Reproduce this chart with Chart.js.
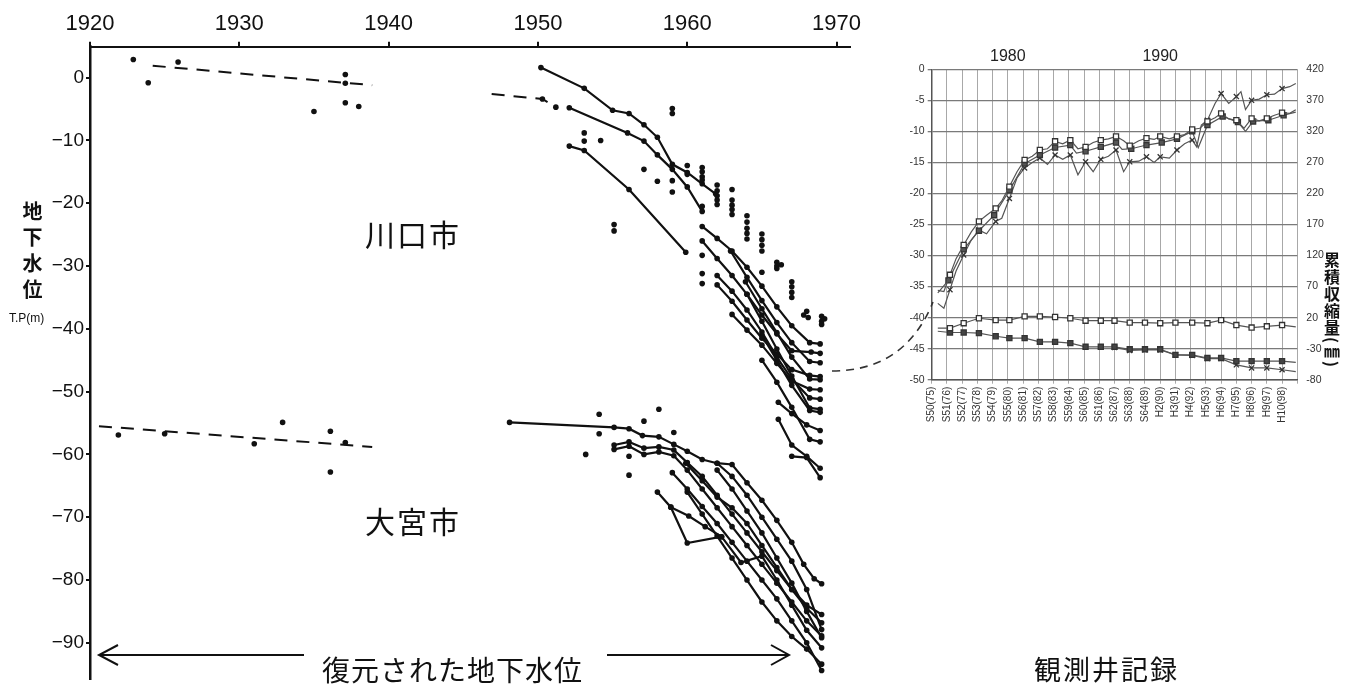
<!DOCTYPE html>
<html lang="ja">
<head>
<meta charset="UTF-8">
<title>地下水位の変遷</title>
<script src="https://cdn.jsdelivr.net/npm/chart.js"></script>
<style>
    body {
        margin: 0;
        width: 1347px;
        height: 692px;
        overflow: hidden;
        position: relative;
        background: #fff;
        font-family: 'Noto Sans CJK JP', sans-serif;
        color: #111;
    }
    #leftBox { position: absolute; left: 0; top: 0; width: 870px; height: 692px; }
    #rightBox { position: absolute; left: 880px; top: 40px; width: 467px; height: 420px; }
    .lbl { position: absolute; white-space: nowrap; line-height: 1; }
    .vert { writing-mode: vertical-rl; }
    #deco { position: absolute; left: 0; top: 0; pointer-events: none; }
</style>
</head>
<body>
<div id="leftBox"><canvas id="levelChart"></canvas></div>
<div id="rightBox"><canvas id="wellChart"></canvas></div>

<svg id="deco" width="1347" height="692">
    <!-- arrows under the reconstructed levels and the link to the well record -->
    <g stroke="#111" stroke-width="2" fill="none">
        <line x1="99" y1="655" x2="304" y2="655"/>
        <polyline points="118,645 99,655 118,665"/>
        <line x1="607" y1="655" x2="789" y2="655"/>
        <polyline points="771,645 789,655 771,665"/>
    </g>
    <path d="M 832 371 Q 905 371 933 302" stroke="#333" stroke-width="1.6" fill="none" stroke-dasharray="8 6"/>
</svg>

<div class="lbl vert" style="left:22px; top:201px; font-size:20px; font-weight:bold; letter-spacing:6px;">地下水位</div>
<div class="lbl" style="left:9px; top:312px; font-size:12px; font-family:'Liberation Sans',sans-serif;">T.P(m)</div>
<div class="lbl" style="left:365px; top:218px; font-size:30px; letter-spacing:2px;">川口市</div>
<div class="lbl" style="left:365px; top:505px; font-size:30px; letter-spacing:2px;">大宮市</div>
<div class="lbl" style="left:322px; top:655px; font-size:28px; letter-spacing:1px;">復元された地下水位</div>
<div class="lbl" style="left:1034px; top:655px; font-size:27px; letter-spacing:2px;">観測井記録</div>
<div class="lbl vert" style="left:1324px; top:252px; font-size:16px; font-weight:bold; letter-spacing:1px;">累積収縮量(㎜)</div>

<script>
    // ---- left chart: reconstructed groundwater level (T.P. m) ----
    const yearTicks = [1920, 1930, 1940, 1950, 1960, 1970];
    const levelTicks = [0, -10, -20, -30, -40, -50, -60, -70, -80, -90];

    // Kawaguchi, before the war
    const kawaEarlyDots = [[1922.9, 2.9], [1923.9, -0.8], [1925.9, 2.5], [1935, -5.4], [1937.1, 0.5],
        [1937.1, -0.9], [1937.1, -4.0], [1938, -4.6]];
    const kawaEarlyTrend = [[1924.2, 1.9], [1938.9, -1.2]];
    // Omiya, before the war
    const omiyaEarlyDots = [[1921.9, -56.9], [1925, -56.7], [1931, -58.3], [1932.9, -54.9], [1936.1, -56.3],
        [1936.1, -62.8], [1937.1, -58.1]];
    const omiyaEarlyTrend = [[1920.6, -55.5], [1938.9, -58.8]];

    // Kawaguchi wells
    const kawaDash = [[1946.9, -2.6], [1950.3, -3.4], [1951.2, -4.7]];
    const kawaA = [[1950.2, 1.6], [1953.1, -1.7], [1955, -5.2], [1956.1, -5.7], [1957.1, -7.5], [1958, -9.5],
        [1959, -13.8], [1960, -15.1], [1961, -16.9], [1961.9, -18.5]];
    const kawaB = [[1952.1, -4.8], [1956, -8.8], [1957.1, -10.1], [1958, -12.3], [1959, -14.6], [1960, -17.4], [1961, -21.3]];
    const kawaC = [[1952.1, -10.9], [1953.1, -11.6], [1956.1, -17.8], [1959.9, -27.8]];
    const kawa1 = [[1961, -23.7], [1962, -25.6], [1963, -27.6], [1964, -30.2], [1965, -33.2], [1966, -36.5], [1967, -39.5], [1968.2, -42.2], [1968.9, -42.4]];
    const kawa2 = [[1961, -26], [1962, -28.8], [1963, -31.5], [1964, -34.5], [1965, -37.8], [1966, -40.8], [1967, -43.5], [1968.3, -43.7], [1968.9, -43.9]];
    const kawa3 = [[1962.9, -27.6], [1964, -31.8], [1965, -35.5], [1966, -39], [1967, -42.2], [1968.2, -45.2], [1968.9, -45.4]];
    const kawa4 = [[1962, -33], [1963, -35.6], [1964, -38.6], [1965, -41.5], [1966, -44], [1967, -46.5], [1968.2, -47.4], [1968.9, -47.6]];
    const kawa5 = [[1963.9, -32.5], [1965, -36.8], [1966, -40.6], [1967, -44.5], [1968.2, -48], [1968.9, -48.1]];
    const kawa6 = [[1963, -37.7], [1964, -40.2], [1965, -42.6], [1966, -45.5], [1967, -48.3], [1968.2, -49.6], [1968.9, -49.7]];
    const kawa7 = [[1962, -31.5], [1963, -34], [1964, -37], [1965, -40.5], [1966, -44.5], [1967, -48], [1968.2, -51], [1968.9, -51.2]];
    const kawa8 = [[1964, -34.5], [1965, -38.8], [1966, -43.2], [1967, -47.5], [1968.2, -52.6], [1968.9, -52.8]];
    const kawa9 = [[1965, -41], [1966, -45], [1967, -49], [1968.2, -53], [1968.9, -53.3]];
    const kawa10 = [[1966.1, -51.7], [1967, -53.5], [1968, -55.3], [1968.9, -56.2]];
    const kawa11 = [[1965, -45], [1966, -48.5], [1967, -52.5], [1968.2, -57.6], [1968.9, -58]];
    const kawa12 = [[1966.1, -54.4], [1967, -58.5], [1968, -60.3], [1968.9, -62.2]];
    const kawa13 = [[1967, -60.3], [1968, -60.5], [1968.9, -63.7]];
    const kawaDots = [[1953.1, -8.8], [1953.1, -10.1], [1954.2, -10.0], [1955.1, -23.4], [1955.1, -24.4], [1957.1, -14.6],
        [1958, -16.5], [1959, -4.9], [1959, -5.7], [1959, -16.4], [1959, -18.2], [1960, -14], [1960, -15.4],
        [1961, -14.3], [1961, -15], [1961, -15.8], [1961, -16.3], [1961, -20.5], [1961, -28.3], [1961, -31.2], [1961, -32.8],
        [1962, -17.1], [1962, -18], [1962, -18.8], [1962, -19.5], [1962, -20.2],
        [1963, -17.8], [1963, -19.5], [1963, -20.3], [1963, -21], [1963, -21.8],
        [1964, -22], [1964, -23], [1964, -24], [1964, -24.8], [1964, -25.7],
        [1965, -24.9], [1965, -25.8], [1965, -26.7], [1965, -27.6], [1965, -31],
        [1966, -29.4], [1966, -30], [1966, -30.4], [1966.3, -29.8],
        [1967, -32.5], [1967, -33.3], [1967, -34.2], [1967, -35],
        [1968, -37.2], [1967.8, -37.8], [1968.1, -38.2], [1969, -38], [1969, -38.8], [1969.2, -38.4], [1969, -39.3]];

    // Omiya wells
    const omiya1 = [[1948.1, -54.9], [1955.1, -55.7], [1956.1, -55.9], [1957, -57], [1958.1, -57.2], [1959.1, -58.4],
        [1960, -59.5], [1961, -60.8], [1962, -61.4], [1963, -61.6], [1964, -64.5], [1965, -67.3], [1966, -70.5],
        [1967, -74], [1967.8, -77.5], [1968.5, -79.8], [1969, -80.6]];
    const omiya2 = [[1955.1, -58.5], [1956.1, -58], [1957.1, -59], [1958.1, -58.8], [1959.1, -59.3], [1960, -61.3],
        [1961, -63.5], [1962, -66.5], [1963, -69.5], [1964, -72.5], [1965, -75.5], [1966, -78.5], [1967, -81.5], [1968, -84], [1969, -85.5]];
    const omiya3 = [[1955.1, -59.2], [1956.1, -58.7], [1957.1, -60], [1958.1, -59.6], [1959.1, -60.2], [1960, -62.5],
        [1961, -65.5], [1962, -68.5], [1963, -71.5], [1964, -74.5], [1965, -77.5], [1966, -80.5], [1967, -83.5], [1968, -86.5], [1969, -88.9]];
    const omiya4 = [[1959, -62.9], [1960, -65.5], [1961, -68.3], [1962, -71], [1963, -74], [1964, -77], [1965, -80],
        [1966, -83], [1967, -86.5], [1968, -90], [1969, -94.4]];
    const omiya5 = [[1958, -66], [1958.9, -68.4], [1960, -74.1], [1962.3, -73.1], [1963.6, -77.2], [1965, -76.2],
        [1966, -80], [1967, -84], [1968, -88], [1969, -90.8]];
    const omiya6 = [[1958.9, -68.4], [1960.1, -69.8], [1961.2, -71.5], [1962.3, -73.1]];
    const omiya7 = [[1959.9, -61.4], [1961, -64.2], [1962, -66.8], [1963, -68.5], [1964, -71], [1965, -74.5],
        [1966, -78], [1967, -81.5], [1968, -84.5], [1969, -86.8]];
    const omiya8 = [[1962, -61.4], [1963, -63.5], [1964, -66.5], [1965, -70], [1966, -73.5], [1967, -77], [1968, -81.5], [1969, -87.9]];
    const omiya9 = [[1962, -62.5], [1963, -65.5], [1964, -69], [1965, -72.5], [1966, -76.5], [1967, -80.5], [1968, -85], [1969, -89.2]];
    const omiya10 = [[1960, -66], [1961, -69.5], [1962, -73], [1963, -76.5], [1964, -80], [1965, -83.5], [1966, -86.5],
        [1967, -89], [1968, -91], [1969, -93.4]];
    const omiyaDots = [[1953.2, -60], [1954.1, -53.6], [1954.1, -56.7], [1956.1, -60.3], [1956.1, -63.3],
        [1957.1, -54.7], [1958.1, -52.8], [1959.1, -56.5]];

    // ---- right chart: observation well record ----
    const eraLabels = ['S50(75)', 'S51(76)', 'S52(77)', 'S53(78)', 'S54(79)', 'S55(80)', 'S56(81)', 'S57(82)',
        'S58(83)', 'S59(84)', 'S60(85)', 'S61(86)', 'S62(87)', 'S63(88)', 'S64(89)', 'H2(90)', 'H3(91)',
        'H4(92)', 'H5(93)', 'H6(94)', 'H7(95)', 'H8(96)', 'H9(97)', 'H10(98)'];
    const decadeTicks = [1980, 1990];

    // groundwater level (m), left axis
    const wellSq = [[1975.4, -35.6], [1975.8, -35.8], [1976.2, -33.1], [1976.6, -30.5], [1977.1, -28.3], [1977.6, -26.2],
        [1978.1, -24.5], [1978.6, -23.5], [1979.2, -22.4], [1979.6, -21.2], [1980.1, -18.9], [1980.6, -16.5],
        [1981.1, -14.6], [1981.6, -14.0], [1982.1, -13.0], [1982.6, -12.8], [1983.1, -11.6], [1983.6, -12.0],
        [1984.1, -11.4], [1984.6, -12.8], [1985.1, -12.5], [1985.6, -11.8], [1986.1, -11.4], [1986.6, -11.2],
        [1987.1, -10.8], [1987.6, -11.5], [1988, -12.3], [1988.6, -11.5], [1989.1, -11.1], [1989.6, -11.3],
        [1990, -10.8], [1990.6, -11.2], [1991.1, -10.8], [1991.6, -10.5], [1992.1, -9.7], [1992.6, -9.5],
        [1993.1, -8.4], [1993.6, -7.8], [1994, -7.1], [1994.5, -8.0], [1995, -8.2], [1995.5, -9.5],
        [1996, -7.9], [1996.5, -8.3], [1997, -7.9], [1997.5, -7.4], [1998, -7.0], [1998.5, -7.1], [1998.9, -6.5]];
    const wellFill = [[1975.4, -36], [1976.1, -34], [1977.1, -29], [1978.1, -26], [1979.1, -23.5], [1980.1, -19.5],
        [1981.1, -15.2], [1982.1, -13.8], [1983.1, -12.6], [1984.1, -12.2], [1984.5, -13.5], [1985.1, -13.2], [1986.1, -12.5],
        [1987.1, -11.8], [1987.5, -12.9], [1988.1, -12.8], [1989.1, -12.2], [1990.1, -11.8], [1991.1, -11.2],
        [1992.1, -10.0], [1992.5, -12.6], [1993.1, -9.0], [1994.1, -7.6], [1995.1, -8.5], [1995.6, -10.0],
        [1996.1, -8.4], [1997.1, -8.2], [1998.1, -7.4], [1998.9, -6.9]];
    const wellCross = [[1975.4, -37.7], [1975.8, -38.5], [1976.2, -35.5], [1976.6, -32.5], [1977.1, -29.9], [1977.6, -27.5],
        [1978.1, -25.9], [1978.6, -26.5], [1979.2, -24.5], [1979.6, -24.0], [1980.1, -20.8], [1980.6, -17.5],
        [1981.1, -15.9], [1981.6, -15.0], [1982.1, -14.3], [1982.6, -15.3], [1983.1, -13.8], [1983.6, -14.5],
        [1984.1, -13.8], [1984.6, -17.0], [1985.1, -14.9], [1985.6, -16.5], [1986.1, -14.5], [1986.6, -14.0],
        [1987.1, -13.0], [1987.6, -16.5], [1988, -14.9], [1988.6, -14.8], [1989.1, -14.1], [1989.6, -15.0],
        [1990, -14.1], [1990.6, -14.3], [1991.1, -13.0], [1991.6, -12.0], [1992.1, -11.4], [1992.4, -12.5],
        [1992.7, -9.0], [1993.1, -8.2], [1993.6, -5.5], [1994, -3.9], [1994.5, -5.5], [1995, -4.4], [1995.3, -3.6],
        [1995.6, -6.5], [1996, -5.0], [1996.5, -4.8], [1997, -4.1], [1997.5, -4.0], [1998, -3.1], [1998.5, -2.8], [1998.9, -2.3]];

    // cumulative compaction (mm), right axis
    const compSq = [[1975.4, 3], [1976.2, 3], [1977.1, 11], [1978.1, 19], [1979.2, 16], [1980.1, 16], [1981.1, 22],
        [1982.1, 22], [1983.1, 21], [1984.1, 19], [1985.1, 15], [1986.1, 15], [1987, 15], [1988, 12], [1989, 12],
        [1990, 11], [1991, 12], [1992.1, 12], [1993.1, 11], [1994, 16], [1995, 8], [1996, 4], [1997, 6], [1998, 8], [1998.9, 5]];
    const compFill = [[1975.4, -2], [1976.2, -4], [1977.1, -4], [1978.1, -5], [1979.2, -10], [1980.1, -13], [1981.1, -13],
        [1982.1, -19], [1983.1, -19], [1984.1, -21], [1985.1, -27], [1986.1, -27], [1987, -27], [1988, -31], [1989, -31],
        [1990, -31], [1991, -40], [1992.1, -40], [1993.1, -45], [1994, -45], [1995, -50], [1996, -50], [1997, -50],
        [1998, -50], [1998.9, -52]];
    const compCross = [[1987, -28], [1988, -33], [1989, -32], [1990, -32], [1991, -40], [1992.1, -41], [1993.1, -46],
        [1994, -46], [1995, -56], [1996, -61], [1997, -61], [1998, -64], [1998.9, -67]];

    const INK = '#111';
    const sans = "'Liberation Sans', Arial, sans-serif";

    function wellLine(pts) {
        return { type: 'line', data: pts, borderColor: INK, borderWidth: 2.2, pointRadius: 2.8,
            pointBackgroundColor: INK, pointBorderWidth: 0, tension: 0 };
    }
    function trend(pts, withDots) {
        return { type: 'line', data: pts, borderColor: INK, borderWidth: 2, borderDash: [13, 9],
            pointRadius: withDots ? (c => c.index > 0 ? 2.8 : 0) : 0, pointBackgroundColor: INK, pointBorderWidth: 0 };
    }
    function dots(pts) {
        return { type: 'scatter', data: pts, showLine: false, pointRadius: 2.8,
            pointBackgroundColor: INK, pointBorderWidth: 0 };
    }

    const levelSets = [
        trend(kawaEarlyTrend, false), trend(omiyaEarlyTrend, false), trend(kawaDash, true),
        dots(kawaEarlyDots), dots(omiyaEarlyDots), dots(kawaDots), dots(omiyaDots)
    ];
    [kawaA, kawaB, kawaC, kawa1, kawa2, kawa3, kawa4, kawa5, kawa6, kawa7, kawa8, kawa9, kawa10, kawa11, kawa12, kawa13,
        omiya1, omiya2, omiya3, omiya4, omiya5, omiya6, omiya7, omiya8, omiya9, omiya10]
        .forEach(p => levelSets.push(wellLine(p)));

    new Chart(document.getElementById('levelChart'), {
        data: { datasets: levelSets },
        options: {
            responsive: true,
            maintainAspectRatio: false,
            animation: false,
            events: [],
            layout: { padding: { top: 0, right: 20, bottom: 0, left: 0 } },
            plugins: { legend: { display: false }, tooltip: { enabled: false } },
            scales: {
                x: {
                    type: 'linear', position: 'top', min: 1920, max: 1970.9,
                    afterBuildTicks: s => { s.ticks = yearTicks.map(v => ({ value: v })); },
                    afterFit: s => { s.height = 46.7; },
                    grid: { drawOnChartArea: false, drawTicks: true, tickLength: 5, color: INK, lineWidth: 2 },
                    border: { display: true, color: INK, width: 2 },
                    ticks: { color: INK, padding: 5, maxRotation: 0, font: { family: sans, size: 22 },
                        callback: v => String(v) }
                },
                y: {
                    type: 'linear', min: -95.7, max: 4.93,
                    afterBuildTicks: s => { s.ticks = levelTicks.map(v => ({ value: v })); },
                    afterFit: s => { s.width = 90; },
                    grid: { drawOnChartArea: false, drawTicks: true, tickLength: 4, color: INK, lineWidth: 2 },
                    border: { display: true, color: INK, width: 2.5 },
                    ticks: { color: INK, padding: 2, font: { family: sans, size: 19 },
                        callback: v => v === 0 ? '0' : '\u2212' + Math.abs(v) }
                }
            }
        }
    });

    function markAt(size) {
        // markers only on the yearly readings
        return c => {
            const x = c.raw[0];
            return (x - Math.floor(x)) < 0.25 ? size : 0;
        };
    }
    function recLine(pts, axis, style, fill) {
        return { type: 'line', data: pts, yAxisID: axis, borderColor: '#555', borderWidth: 1.2, tension: 0,
            pointStyle: style, pointRadius: markAt(3.6), pointBorderColor: '#333', pointBorderWidth: 1.3,
            pointBackgroundColor: fill };
    }

    new Chart(document.getElementById('wellChart'), {
        data: {
            datasets: [
                recLine(wellSq, 'y', 'rect', '#fff'),
                recLine(wellFill, 'y', 'rect', '#555'),
                recLine(wellCross, 'y', 'crossRot', '#333'),
                recLine(compSq, 'y2', 'rect', '#fff'),
                recLine(compFill, 'y2', 'rect', '#444'),
                recLine(compCross, 'y2', 'crossRot', '#333')
            ]
        },
        options: {
            responsive: true,
            maintainAspectRatio: false,
            animation: false,
            events: [],
            layout: { padding: 0 },
            plugins: { legend: { display: false }, tooltip: { enabled: false } },
            scales: {
                x: {
                    type: 'linear', position: 'bottom', min: 1975, max: 1999,
                    afterFit: s => { s.height = 80.3; },
                    grid: { color: '#a8a8a8', lineWidth: 1, tickLength: 4 },
                    border: { color: '#555', width: 1.5 },
                    ticks: { stepSize: 1, autoSkip: false, minRotation: 90, maxRotation: 90, padding: 3, color: '#333',
                        font: { family: sans, size: 10 },
                        callback: v => eraLabels[Math.round(v) - 1975] || '' }
                },
                x2: {
                    type: 'linear', position: 'top', min: 1975, max: 1999,
                    afterBuildTicks: s => { s.ticks = decadeTicks.map(v => ({ value: v })); },
                    afterFit: s => { s.height = 29.3; },
                    grid: { display: false, drawTicks: false, tickLength: 0 },
                    border: { display: false },
                    ticks: { padding: 3, color: '#222', maxRotation: 0, font: { family: sans, size: 16 },
                        callback: v => String(v) }
                },
                y: {
                    type: 'linear', position: 'left', min: -50, max: 0,
                    afterFit: s => { s.width = 51.7; },
                    grid: { color: '#7a7a7a', lineWidth: 1.3, tickLength: 4 },
                    border: { color: '#555', width: 1.5 },
                    ticks: { stepSize: 5, padding: 3, color: '#333', font: { family: sans, size: 10.5 } }
                },
                y2: {
                    type: 'linear', position: 'right', min: -80, max: 420,
                    afterFit: s => { s.width = 49.7; },
                    grid: { display: false, drawTicks: false, tickLength: 0 },
                    border: { display: false },
                    ticks: { stepSize: 50, padding: 9, color: '#333', font: { family: sans, size: 10.5 } }
                }
            }
        }
    });
</script>
</body>
</html>
